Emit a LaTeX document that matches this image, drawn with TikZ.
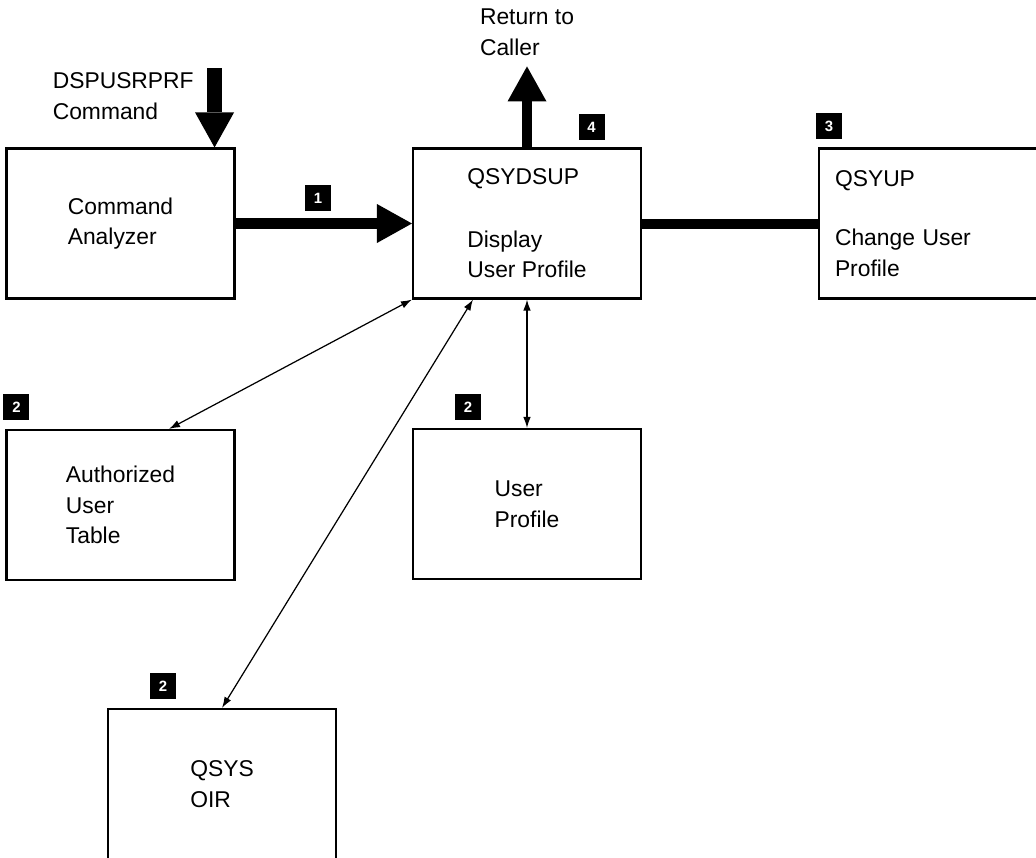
\documentclass[tikz,border=0pt]{standalone}
\usepackage{fontspec}
\setmainfont{Liberation Sans}
\usetikzlibrary{positioning,arrows.meta}

\begin{document}
\begin{tikzpicture}
[
  box/.style={draw, line width=1.2pt, minimum width=4.56cm, minimum height=3cm, inner sep=0pt, align=left},
  tag/.style={fill=black, text=white, font=\fontsize{8.5}{10}\selectfont\bfseries, minimum size=0.52cm, inner sep=0pt},
  lbl/.style={align=left, inner sep=2pt},
  flow/.style={line width=0.22cm, -{Triangle[length=0.7cm,width=0.78cm,line width=0pt]}},
  link/.style={line width=0.7pt, {Latex[length=2.2mm,width=1.5mm]}-{Latex[length=2.2mm,width=1.5mm]}},
  on grid,
  font=\fontsize{13}{17.5}\selectfont
]
 \useasboundingbox (0,0) rectangle (20.72,-17.14);

 \node[box] (dsup) at (10.54,-4.47) {QSYDSUP\\[18pt]Display\\User Profile};
 \node[box] (ca) [left=8.13cm of dsup] {Command\\Analyzer};
 \node[box,text width=3.92cm] (up) [right=8.12cm of dsup] {QSYUP\\[16pt]Change User\\Profile};
 \node[box] (upf) [below=5.61cm of dsup] {User\\Profile};
 \node[box] (aut) [below=5.63cm of ca] {Authorized\\User\\Table};
 \node[box] (oir) [below right=5.58cm and 2.03cm of aut] {QSYS\\OIR};
 % \node[box] (err) [right=8cm of upf] {};

 \node[tag] (t1) at ([shift={(1.65,-1.02)}]ca.north east) {1};
 \node[tag] (t4) at ([shift={(-1.01,0.41)}]dsup.north east) {4};
 \node[tag] (t3) at ([shift={(0.22,0.43)}]up.north west) {3};
 \node[tag] (t2a) at ([shift={(0.22,0.44)}]aut.north west) {2};
 \node[tag] (t2b) at ([shift={(1.12,0.42)}]upf.north west) {2};
 \node[tag] (t2c) at ([shift={(1.12,0.44)}]oir.north west) {2};

 % command coming in, control going back
 \coordinate (cmdin) at ([shift={(-0.42,1.58)}]ca.north east);
 \draw[flow, line width=0.3cm] (cmdin) -- (cmdin |- ca.north);
 \node[lbl, anchor=north east] (cmdlbl) at ([xshift=-0.34cm]cmdin) {DSPUSRPRF\\Command};

 \coordinate (ret) at ([yshift=1.62cm]dsup.north);
 \draw[flow, line width=0.19cm] (dsup.north) -- (ret);
 \node[lbl, anchor=south] (retlbl) at ([yshift=0.14cm]ret) {Return to\\Caller};

 \draw[flow] (ca.east) -- (ca.east -| dsup.west);
 \draw[line width=0.2cm] (dsup.east) -- (dsup.east -| up.west);

 \draw[link] ([xshift=0.97cm]aut.north) -- (dsup.south west);
 \draw[link] (oir.north) -- ([xshift=-1.08cm]dsup.south);
 \draw[link] (upf.north) -- (upf.north |- dsup.south);
\end{tikzpicture}
\end{document}
